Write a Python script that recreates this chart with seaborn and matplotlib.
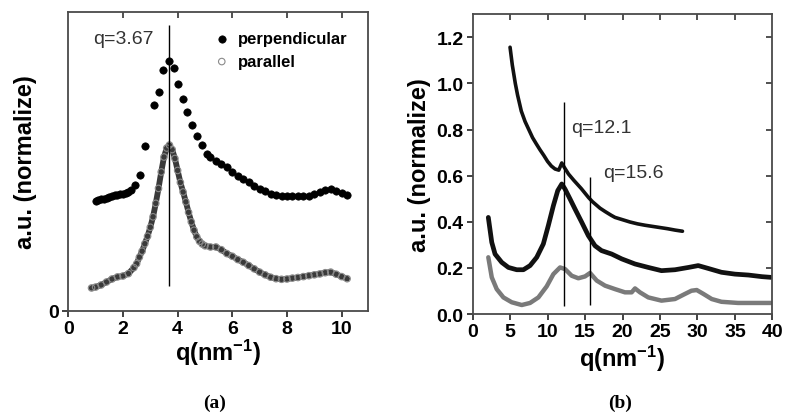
import matplotlib
matplotlib.use("Agg")
import matplotlib.pyplot as plt
import seaborn as sns
import pandas as pd
from matplotlib import font_manager

# ---------------- data: panel (a) ----------------
a_perp_q = [1.0, 1.1, 1.2, 1.3, 1.4, 1.5, 1.6, 1.7, 1.8, 1.9, 2.0, 2.1, 2.2, 2.3,
            2.44, 2.62, 2.80, 3.15, 3.33, 3.48, 3.67, 3.85, 4.01, 4.18, 4.35, 4.51,
            4.72, 4.89, 5.06,
            5.2, 5.4, 5.6, 5.8, 6.0, 6.2, 6.4, 6.6, 6.8, 7.0, 7.2, 7.4, 7.6, 7.8,
            8.0, 8.2, 8.4, 8.6, 8.8, 9.0, 9.2, 9.4, 9.6, 9.8, 10.0, 10.2]
a_perp_y = [0.368, 0.370, 0.373, 0.376, 0.379, 0.381, 0.384, 0.387, 0.389, 0.390,
            0.392, 0.394, 0.398, 0.405,
            0.420, 0.454, 0.551, 0.688, 0.732, 0.807, 0.835, 0.814, 0.760, 0.710,
            0.666, 0.623, 0.585, 0.554, 0.524,
            0.515, 0.503, 0.492, 0.480, 0.466, 0.453, 0.441, 0.430, 0.419, 0.409,
            0.400, 0.392, 0.387, 0.384, 0.383, 0.383, 0.383, 0.383, 0.386, 0.391,
            0.398, 0.405, 0.408, 0.402, 0.395, 0.388]

a_par_q = [0.85, 1.0, 1.2, 1.4, 1.6, 1.8, 2.0, 2.2, 2.4, 2.5, 2.6, 2.7, 2.8, 2.9,
           3.0, 3.1, 3.2, 3.3, 3.4, 3.5, 3.6, 3.7, 3.8, 3.9, 4.0, 4.1, 4.2, 4.3,
           4.4, 4.5, 4.6, 4.7, 4.8, 4.9, 5.0, 5.2, 5.4, 5.6, 5.8, 6.0, 6.2, 6.4,
           6.6, 6.8, 7.0, 7.2, 7.4, 7.6, 7.8, 8.0, 8.2, 8.4, 8.6, 8.8, 9.0, 9.2,
           9.4, 9.6, 9.8, 10.0, 10.2]
a_par_y = [0.077, 0.080, 0.087, 0.097, 0.107, 0.114, 0.117, 0.125, 0.145, 0.158,
           0.180, 0.200, 0.225, 0.250, 0.280, 0.315, 0.360, 0.410, 0.465, 0.515,
           0.545, 0.555, 0.540, 0.510, 0.470, 0.430, 0.398, 0.365, 0.330, 0.298,
           0.270, 0.248, 0.233, 0.224, 0.218, 0.214, 0.214, 0.205, 0.192, 0.183,
           0.172, 0.163, 0.152, 0.141, 0.130, 0.121, 0.113, 0.108, 0.106, 0.107,
           0.110, 0.112, 0.115, 0.118, 0.121, 0.124, 0.128, 0.130, 0.123, 0.115,
           0.108]

a_peak_q = 3.67

# ---------------- data: panel (b) ----------------
b_spin_q = [5.0, 5.3, 5.7, 6.0, 6.5, 7.0, 7.5, 8.0, 8.5, 9.0, 9.5, 10.0, 10.5,
            11.0, 11.5, 11.9, 12.2, 12.8, 13.5, 14.0, 14.5, 15.0, 15.5, 16.0,
            16.5, 17.0, 17.7, 18.5, 19.0, 20.0, 21.0, 22.0, 23.0, 24.0, 25.0,
            26.0, 27.0, 28.0]
b_spin_y = [1.157, 1.08, 1.00, 0.95, 0.88, 0.835, 0.80, 0.765, 0.738, 0.712,
            0.688, 0.662, 0.642, 0.629, 0.624, 0.655, 0.638, 0.607, 0.580, 0.562,
            0.544, 0.524, 0.504, 0.487, 0.473, 0.459, 0.444, 0.428, 0.419, 0.409,
            0.399, 0.391, 0.385, 0.380, 0.375, 0.370, 0.364, 0.359]

b_perp_q = [2.1, 2.56, 3.0, 3.89, 4.78, 5.89, 6.78, 7.67, 8.56, 9.44, 10.1,
            10.78, 11.36, 11.9, 12.33, 13.0, 13.67, 14.56, 15.44, 16.33, 17.2,
            18.56, 19.9, 21.67, 23.44, 25.2, 27.0, 28.8, 30.1, 31.4, 33.2, 35.0,
            36.8, 38.6, 39.8]
b_perp_y = [0.419, 0.311, 0.260, 0.224, 0.202, 0.192, 0.192, 0.210, 0.246, 0.304,
            0.383, 0.470, 0.535, 0.564, 0.542, 0.499, 0.455, 0.398, 0.340, 0.296,
            0.275, 0.260, 0.239, 0.217, 0.202, 0.188, 0.192, 0.202, 0.210, 0.198,
            0.181, 0.173, 0.169, 0.162, 0.159]

b_par_q = [2.1, 2.56, 3.22, 4.11, 5.22, 6.56, 7.67, 8.78, 9.89, 10.78, 11.67,
           12.33, 13.22, 14.11, 15.0, 15.67, 16.56, 17.67, 19.0, 20.33, 21.22,
           21.67, 22.33, 23.44, 25.2, 27.0, 28.33, 29.2, 29.9, 30.8, 31.9, 33.2,
           35.4, 37.7, 39.8]
b_par_y = [0.246, 0.159, 0.108, 0.072, 0.051, 0.039, 0.048, 0.072, 0.120, 0.173,
           0.202, 0.195, 0.166, 0.155, 0.163, 0.178, 0.145, 0.123, 0.108, 0.094,
           0.094, 0.111, 0.094, 0.072, 0.058, 0.065, 0.087, 0.101, 0.104, 0.087,
           0.065, 0.053, 0.048, 0.048, 0.048]

b_peak1_q = 12.2
b_peak2_q = 15.7

# ---------------- style ----------------
sns.set_theme(style="ticks")
avail = {f.name for f in font_manager.fontManager.ttflist}
main_font = "Liberation Sans Narrow" if "Liberation Sans Narrow" in avail else "Liberation Sans"
plt.rcParams["font.family"] = [main_font, "Liberation Sans", "DejaVu Sans"]
plt.rcParams["mathtext.fontset"] = "custom"
plt.rcParams["mathtext.rm"] = main_font + ":bold"
plt.rcParams["mathtext.default"] = "rm"
for k in ["text.color", "axes.labelcolor", "xtick.labelcolor", "ytick.labelcolor"]:
    plt.rcParams[k] = "black"
plt.rcParams["xtick.bottom"] = True
plt.rcParams["ytick.left"] = True

narrow = main_font.endswith("Narrow")
TICK_FS = 15 if narrow else 14
LABEL_FS = 19 if narrow else 17
LEG_FS = 13 if narrow else 12
spine_c = "#4a4a4a"

fig = plt.figure(figsize=(7.85, 4.14), dpi=100)
ax1 = fig.add_axes([0.087, 0.2464, 0.382, 0.7222])
ax2 = fig.add_axes([0.602, 0.2391, 0.382, 0.7246])


def style_axes(ax):
    for s in ax.spines.values():
        s.set_color(spine_c)
        s.set_linewidth(1.3)
    ax.tick_params(axis="both", which="major", direction="out", length=4.5,
                   width=1.3, color="#333333", labelsize=TICK_FS, pad=2,
                   bottom=True, left=True, labelcolor="black")
    for lbl in ax.get_xticklabels() + ax.get_yticklabels():
        lbl.set_fontweight("bold")


# ---------------- panel (a) ----------------
df_ap = pd.DataFrame({"q": a_perp_q, "y": a_perp_y})
df_al = pd.DataFrame({"q": a_par_q, "y": a_par_y})

sns.lineplot(data=df_al, x="q", y="y", ax=ax1, color="#3a3a3a", lw=4.2,
             sort=False, legend=False)
sns.scatterplot(data=df_al, x="q", y="y", ax=ax1, marker="o", s=22,
                facecolor="none", edgecolor="#8a8a8a", linewidth=0.8,
                label="parallel", zorder=3)
sns.scatterplot(data=df_ap, x="q", y="y", ax=ax1, marker="o", s=28,
                color="black", edgecolor="black", linewidth=0.5,
                label="perpendicular", zorder=3)

ax1.vlines(a_peak_q, 0.084, 0.955, color="black", lw=1.0, zorder=4)
ax1.text(0.90, 0.913, "q=3.67", fontsize=14, color="#333333",
         family=["Liberation Sans", "DejaVu Sans"], va="center", ha="left")

ax1.set_xlim(0, 10.97)
ax1.set_ylim(0, 1.0)
ax1.set_xticks([0, 2, 4, 6, 8, 10])
ax1.set_yticks([0])
ax1.set_yticklabels(["0"])
ax1.set_xlabel(r"q(nm$^{-1}$)", fontsize=LABEL_FS, fontweight="bold", labelpad=0)
ax1.set_ylabel("a.u. (normalize)", fontsize=LABEL_FS, fontweight="bold", labelpad=8)
style_axes(ax1)
sec1 = ax1.secondary_xaxis("top")
sec1.set_xticks([2, 4, 6, 8, 10])
sec1.tick_params(direction="in", length=4, width=1.2, color="#333333",
                 top=True, bottom=False, labeltop=False)
sec1.spines["top"].set_visible(False)

h, l = ax1.get_legend_handles_labels()
order = [l.index("perpendicular"), l.index("parallel")]
ax1.legend([h[i] for i in order], [l[i] for i in order],
           loc="upper left", bbox_to_anchor=(0.484, 0.935),
           frameon=False, borderpad=0, borderaxespad=0,
           handlelength=1.0, handletextpad=0.5, labelspacing=0.45,
           prop={"weight": "bold", "size": LEG_FS})

# ---------------- panel (b) ----------------
df_bs = pd.DataFrame({"q": b_spin_q, "y": b_spin_y})
df_bp = pd.DataFrame({"q": b_perp_q, "y": b_perp_y})
df_bl = pd.DataFrame({"q": b_par_q, "y": b_par_y})

sns.lineplot(data=df_bl, x="q", y="y", ax=ax2, color="#7a7a7a", lw=3.2,
             sort=False, legend=False)
sns.lineplot(data=df_bp, x="q", y="y", ax=ax2, color="#111111", lw=3.4,
             sort=False, legend=False)
sns.lineplot(data=df_bs, x="q", y="y", ax=ax2, color="#111111", lw=2.6,
             sort=False, legend=False)

# legend proxies drawn through seaborn (empty data keeps them off the plot)
sns.scatterplot(x=[float("nan")], y=[float("nan")], ax=ax2, marker="s", s=28,
                color="black", label="Spin-coat")
sns.scatterplot(x=[float("nan")], y=[float("nan")], ax=ax2, marker="o", s=30,
                color="black", label="parpendicular")
sns.scatterplot(x=[float("nan")], y=[float("nan")], ax=ax2, marker="o", s=26,
                facecolor="white", edgecolor="#9a9a9a", linewidth=0.9,
                label="paralell")

ax2.vlines(b_peak1_q, 0.033, 0.921, color="black", lw=1.0, zorder=4)
ax2.vlines(b_peak2_q, 0.039, 0.593, color="black", lw=1.0, zorder=4)
ax2.text(13.2, 0.81, "q=12.1", fontsize=14, color="#333333",
         family=["Liberation Sans", "DejaVu Sans"], va="center", ha="left")
ax2.text(17.4, 0.614, "q=15.6", fontsize=14, color="#333333",
         family=["Liberation Sans", "DejaVu Sans"], va="center", ha="left")

ax2.set_xlim(0, 40)
ax2.set_ylim(0, 1.301)
ax2.set_xticks(list(range(0, 41, 5)))
ax2.set_yticks([0.0, 0.2, 0.4, 0.6, 0.8, 1.0, 1.2])
ax2.set_yticklabels(["0.0", "0.2", "0.4", "0.6", "0.8", "1.0", "1.2"])
ax2.set_xlabel(r"q(nm$^{-1}$)", fontsize=LABEL_FS, fontweight="bold", labelpad=2)
ax2.set_ylabel("a.u. (normalize)", fontsize=LABEL_FS, fontweight="bold", labelpad=4)
style_axes(ax2)
sec2x = ax2.secondary_xaxis("top")
sec2x.set_xticks([5, 10, 15, 20, 25, 30, 35])
sec2x.tick_params(direction="in", length=4, width=1.2, color="#333333",
                  top=True, bottom=False, labeltop=False)
sec2x.spines["top"].set_visible(False)
sec2y = ax2.secondary_yaxis("right")
sec2y.set_yticks([0.2, 0.4, 0.6, 0.8, 1.0, 1.2])
sec2y.tick_params(direction="in", length=4, width=1.2, color="#333333",
                  right=True, left=False, labelright=False)
sec2y.spines["right"].set_visible(False)

ax2.legend(loc="upper left", bbox_to_anchor=(0.436, 0.924),
           frameon=False, borderpad=0, borderaxespad=0,
           handlelength=1.0, handletextpad=0.5, labelspacing=0.12,
           prop={"weight": "bold", "size": LEG_FS})

# panel captions
fig.text(215 / 785, 1 - 403 / 414, "(a)", fontsize=14, fontweight="bold",
         family=["Liberation Serif", "DejaVu Serif"], ha="center", va="center")
fig.text(620 / 785, 1 - 403 / 414, "(b)", fontsize=14, fontweight="bold",
         family=["Liberation Serif", "DejaVu Serif"], ha="center", va="center")

fig.savefig("out.png", dpi=100)
